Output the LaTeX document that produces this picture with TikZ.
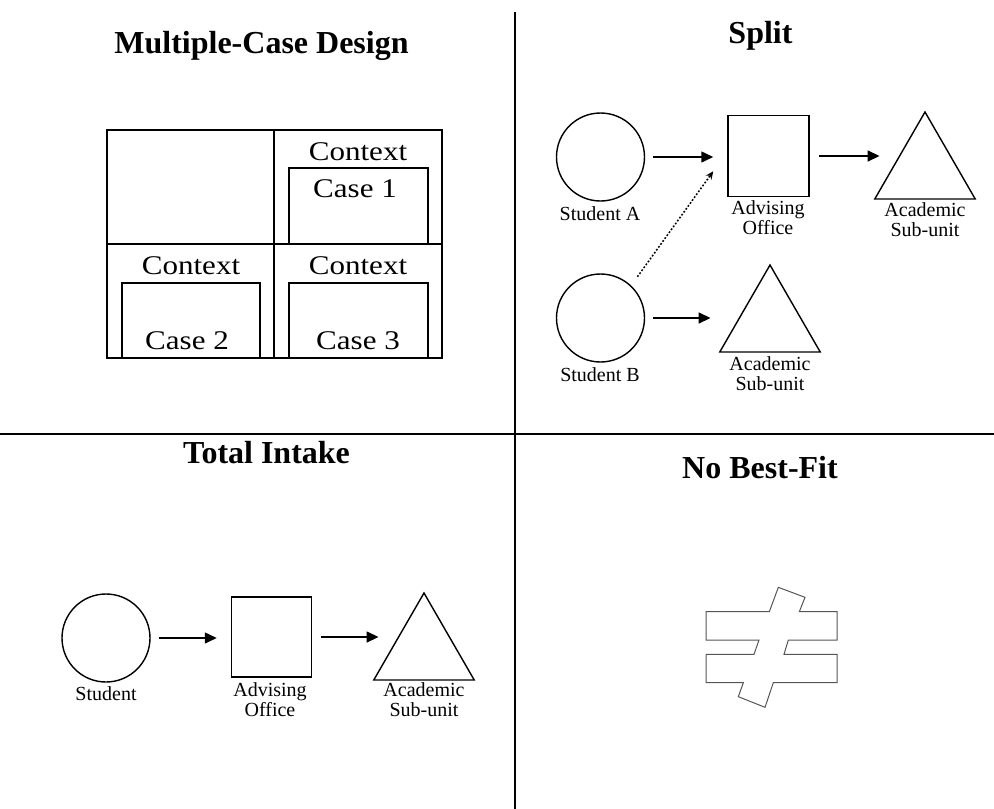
\documentclass[tikz,border=0pt]{standalone}
\usepackage{fontspec}
\setmainfont{Liberation Serif}
\usetikzlibrary{arrows.meta,shapes.geometric}
\definecolor{signgray}{RGB}{85,85,85}
\begin{document}
\begin{tikzpicture}[x=1pt,y=-1pt,
  title/.style={font=\fontsize{32}{36}\selectfont\bfseries, anchor=base, inner sep=0},
  lbl/.style={font=\fontsize{20}{20}\selectfont, anchor=base, inner sep=0, align=center},
  ctx/.style={font=\fontsize{27}{30}\selectfont, anchor=base, inner sep=0},
  circ/.style={circle, draw, line width=1.4pt, minimum size=88pt, inner sep=0},
  sq/.style={rectangle, draw, line width=1.5pt, minimum size=81pt, inner sep=0},
  tri/.style={regular polygon, regular polygon sides=3, draw, line width=1.4pt, minimum size=116pt, inner sep=0},
  arr/.style={line width=1.5pt, -{Triangle[length=12pt,width=11pt]}},
  darr/.style={line width=1.5pt, dash pattern=on 1.8pt off 1.8pt, -{Stealth[length=8pt,width=7pt]}},
  divider/.style={line width=2pt},
  frame/.style={line width=2pt},
  sign/.style={draw=signgray, line width=1pt, line join=miter},
]
\useasboundingbox (0,0) rectangle (994,809);

% dividers
\draw[divider] (515,12) -- (515,809);
\draw[divider] (0,434) -- (994,434);

% titles
\node[title] (t1) at (261.5,53) {Multiple-Case Design};
\node[title] (t2) at (760.5,43) {Split};
\node[title] (t3) at (266.5,463) {Total Intake};
\node[title] (t4) at (760,478) {No Best-Fit};

% multiple-case table
\draw[frame] (107,130) rectangle (442,358);
\draw[frame] (274,130) -- (274,358);
\draw[frame] (107,244) -- (442,244);
\draw[frame] (289,168) rectangle (428,244);
\draw[frame] (122,283) rectangle (260,358);
\draw[frame] (289,283) rectangle (428,358);
\node[ctx] (c1) at (358,160.7) {\scalebox{1.15}[1]{Context}};
\node[ctx] (k1) at (355,197.3) {\scalebox{1.15}[1]{Case 1}};
\node[ctx] (c2) at (191,274) {\scalebox{1.15}[1]{Context}};
\node[ctx] (c3) at (358,274) {\scalebox{1.15}[1]{Context}};
\node[ctx] (k2) at (187,349.3) {\scalebox{1.15}[1]{Case 2}};
\node[ctx] (k3) at (358,349.3) {\scalebox{1.15}[1]{Case 3}};

% split
\node[circ] (sa) at (600.5,157) {};
\node[lbl] (sal) at (600,220.7) {Student A};
\node[sq] (ao) at (768.5,156) {};
\node[lbl] (aol) at (768,234) {Advising\\Office};
\node[tri] (ta) at (925,170) {};
\node[lbl] (tal) at (925,236.7) {Academic\\Sub-unit};
\node[circ] (sb) at (600.5,318) {};
\node[lbl] (sbl) at (600,381) {Student B};
\node[tri] (tb) at (770,323) {};
\node[lbl] (tbl) at (770,390) {Academic\\Sub-unit};
\draw[arr] ([xshift=8pt]sa.east) -- ([xshift=-14pt]ao.west |- sa.east);
\draw[arr] ([xshift=9pt]ao.east) -- ([xshift=6pt]ta.corner 2 |- ao.east);
\draw[arr] ([xshift=8pt]sb.east) -- ([xshift=-8pt]tb.corner 2 |- sb.east);
\draw[darr] ([xshift=7pt,yshift=8pt]sb.48) -- ([xshift=-14pt,yshift=26pt]ao.south west);

% total intake
\node[circ] (st) at (106,638) {};
\node[lbl] (stl) at (106,700.7) {Student};
\node[sq, minimum size=80pt] (to) at (271.5,637) {};
\node[lbl] (tol) at (270,716) {Advising\\Office};
\node[tri] (tt) at (424,651) {};
\node[lbl] (ttl) at (424,716.7) {Academic\\Sub-unit};
\draw[arr] ([xshift=8pt]st.east) -- ([xshift=-14pt]to.west |- st.east);
\draw[arr] ([xshift=9pt]to.east) -- ([xshift=6pt]tt.corner 2 |- to.east);

% no best-fit sign
\draw[sign] (706,611.67) -- (769.33,611.67) -- (778.33,587.33) -- (805,597.33)
  -- (799.33,611.67) -- (837,611.67) -- (837,640) -- (788.33,640)
  -- (784,654.33) -- (837,654.33) -- (837,682.67) -- (773.33,682.67)
  -- (765,707.33) -- (738.33,696.67) -- (743.33,682.67) -- (706,682.67)
  -- (706,654.33) -- (754,654.33) -- (759,640) -- (706,640) -- cycle;
\end{tikzpicture}
\end{document}
